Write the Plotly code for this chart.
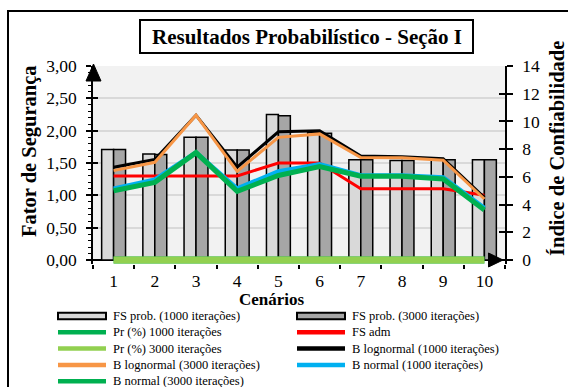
import plotly.graph_objects as go

# ---- data ----
cenarios = ["1", "2", "3", "4", "5", "6", "7", "8", "9", "10"]
fs_prob_1000 = [1.71, 1.64, 1.90, 1.70, 2.25, 1.97, 1.55, 1.54, 1.55, 1.55]
fs_prob_3000 = [1.71, 1.63, 1.90, 1.70, 2.23, 1.96, 1.55, 1.54, 1.55, 1.55]
fs_adm = [1.30, 1.30, 1.30, 1.30, 1.50, 1.50, 1.10, 1.10, 1.10, 1.00]
pr_1000 = [0, 0, 0, 0, 0, 0, 0, 0, 0, 0]
pr_3000 = [0, 0, 0, 0, 0, 0, 0, 0, 0, 0]
b_lognormal_1000 = [6.70, 7.25, 10.45, 6.70, 9.25, 9.32, 7.50, 7.45, 7.30, 4.50]
b_lognormal_3000 = [6.45, 7.05, 10.45, 6.40, 8.85, 9.10, 7.40, 7.38, 7.20, 4.40]
b_normal_1000 = [5.15, 5.80, 7.75, 5.15, 6.40, 6.90, 6.10, 6.10, 5.95, 3.75]
b_normal_3000 = [5.00, 5.60, 7.75, 4.95, 6.10, 6.75, 6.05, 6.05, 5.85, 3.60]

titulo = "Resultados Probabilístico - Seção I"
titulo_y1 = "Fator de Segurança"
titulo_y2 = "Índice de Confiabilidade"
titulo_x = "Cenários"

# ---- page geometry (pixels) ----
W, H = 568, 387
ML, MR, MT, MB = 93, 63, 66, 123
PW = W - ML - MR
PH = H - MT - MB
Y_ZERO_PX = 260            # pixel row of value 0 on both value axes
Y_TOP_PX = MT              # pixel row of the top of both value axes

def px_x(px):
    return (px - ML) / PW

def px_y(py):
    return (H - MB - py) / PH

# both value axes start slightly below zero so the thick zero lines are not clipped
span_px = Y_ZERO_PX - Y_TOP_PX
pad_px = (H - MB) - Y_ZERO_PX
y1_max, y2_max = 3.0, 14.0
y1_range = [-pad_px / span_px * y1_max, y1_max]
y2_range = [-pad_px / span_px * y2_max, y2_max]

FONT = "Liberation Serif"
C_LIGHT = "#D9D9D9"
C_DARK = "#A6A6A6"
C_GREEN = "#00B050"
C_LGREEN = "#92D050"
C_RED = "#FF0000"
C_BLACK = "#000000"
C_ORANGE = "#F79646"
C_BLUE = "#00B0F0"

fig = go.Figure()

# bars (left axis)
fig.add_trace(go.Bar(x=cenarios, y=fs_prob_1000, name="FS prob. (1000 iterações)",
                     marker=dict(color=C_LIGHT, line=dict(color="black", width=1.5)),
                     yaxis="y"))
fig.add_trace(go.Bar(x=cenarios, y=fs_prob_3000, name="FS prob. (3000 iterações)",
                     marker=dict(color=C_DARK, line=dict(color="black", width=1.5)),
                     yaxis="y"))
# allowable safety factor (left axis)
fig.add_trace(go.Scatter(x=cenarios, y=fs_adm, name="FS adm", mode="lines",
                         line=dict(color=C_RED, width=3), yaxis="y"))
# reliability indices (right axis)
fig.add_trace(go.Scatter(x=cenarios, y=b_lognormal_1000, name="B lognormal (1000 iterações)",
                         mode="lines", line=dict(color=C_BLACK, width=3), yaxis="y2"))
fig.add_trace(go.Scatter(x=cenarios, y=b_lognormal_3000, name="B lognormal (3000 iterações)",
                         mode="lines", line=dict(color=C_ORANGE, width=3), yaxis="y2"))
fig.add_trace(go.Scatter(x=cenarios, y=b_normal_1000, name="B normal (1000 iterações)",
                         mode="lines", line=dict(color=C_BLUE, width=4.5), yaxis="y2"))
fig.add_trace(go.Scatter(x=cenarios, y=b_normal_3000, name="B normal (3000 iterações)",
                         mode="lines", line=dict(color=C_GREEN, width=5), yaxis="y2"))
# failure probabilities
fig.add_trace(go.Scatter(x=cenarios, y=pr_1000, name="Pr (%) 1000 iterações",
                         mode="lines", line=dict(color=C_GREEN, width=7), yaxis="y3"))
fig.add_trace(go.Scatter(x=cenarios, y=pr_3000, name="Pr (%) 3000 iterações",
                         mode="lines", line=dict(color=C_LGREEN, width=7), yaxis="y4"))

tickfont = dict(family=FONT, size=17.5, color="black")

fig.update_layout(
    width=W, height=H,
    margin=dict(l=ML, r=MR, t=MT, b=MB, pad=0),
    paper_bgcolor="white", plot_bgcolor="white",
    separators=",.",
    showlegend=False,
    barmode="group", bargap=0.42, bargroupgap=0,
    font=dict(family=FONT, color="black"),
    xaxis=dict(type="category", tickson="boundaries", ticks="outside", ticklen=4,
               tickwidth=1.5, tickcolor="black", showline=False, showgrid=False,
               zeroline=False, tickfont=tickfont, ticklabelstandoff=4),
    yaxis=dict(range=y1_range, tick0=0, dtick=0.5, tickformat=".2f",
               showline=True, linecolor="black", linewidth=1.5,
               ticks="outside", ticklen=5, tickwidth=1.5, tickcolor="black",
               minor=dict(ticks="outside", ticklen=3.5, tickwidth=1.2,
                          tickcolor="black", dtick=0.1, tick0=0, showgrid=False),
               showgrid=True, gridcolor="#D9D9D9", gridwidth=2,
               zeroline=True, zerolinecolor="black", zerolinewidth=1.5,
               tickfont=tickfont, ticklabelstandoff=6),
    yaxis2=dict(range=y2_range, tick0=0, dtick=2, overlaying="y", side="right",
                showline=True, linecolor="black", linewidth=1.5,
                ticks="outside", ticklen=6, tickwidth=1.5, tickcolor="black",
                showgrid=False, zeroline=False, tickfont=tickfont,
                ticklabelstandoff=6),
    yaxis3=dict(range=y1_range, tick0=0, dtick=0.5, overlaying="y", side="left",
                ticks="inside", ticklen=5, tickwidth=1.5, tickcolor="black",
                showticklabels=False, showline=False, showgrid=False, zeroline=False),
    yaxis4=dict(range=y2_range, tick0=0, dtick=2, overlaying="y", side="right",
                ticks="inside", ticklen=6, tickwidth=1.5, tickcolor="black",
                showticklabels=False, showline=False, showgrid=False, zeroline=False),
)

shapes = []
# plot-area fill, from zero to the top of the value axes
shapes.append(dict(type="rect", xref="paper", yref="y", x0=0, x1=1, y0=0, y1=y1_max,
                   fillcolor="#F2F2F2", line=dict(width=0), layer="below"))
# outer chart frame
shapes.append(dict(type="rect", xref="paper", yref="paper",
                   x0=px_x(8), x1=px_x(W + 10), y0=px_y(H + 10), y1=px_y(11),
                   line=dict(color="black", width=2), fillcolor="rgba(0,0,0,0)"))
# title box
shapes.append(dict(type="rect", xref="paper", yref="paper",
                   x0=px_x(140), x1=px_x(473), y0=px_y(53), y1=px_y(20),
                   line=dict(color="black", width=2), fillcolor="white"))
# arrow heads on the left value axis and on the category axis
def tri(points):
    d = "M " + " L ".join(f"{px_x(a):.5f},{px_y(b):.5f}" for a, b in points) + " Z"
    return dict(type="path", xref="paper", yref="paper", path=d,
                fillcolor="black", line=dict(color="black", width=1))
shapes.append(tri([(93.5, 64), (86, 81), (101, 81)]))
shapes.append(tri([(503, Y_ZERO_PX), (488.5, 253), (488.5, 267)]))

annotations = []
annotations.append(dict(text=f"<b>{titulo}</b>", xref="paper", yref="paper",
                        x=px_x(306.5), y=px_y(36.5), xanchor="center", yanchor="middle",
                        showarrow=False, font=dict(family=FONT, size=21, color="black")))
annotations.append(dict(text=f"<b>{titulo_y1}</b>", xref="paper", yref="paper",
                        x=px_x(29), y=px_y(151), xanchor="center", yanchor="middle",
                        textangle=-90, showarrow=False,
                        font=dict(family=FONT, size=20.5, color="black")))
annotations.append(dict(text=f"<b>{titulo_y2}</b>", xref="paper", yref="paper",
                        x=px_x(557), y=px_y(149), xanchor="center", yanchor="middle",
                        textangle=-90, showarrow=False,
                        font=dict(family=FONT, size=20.5, color="black")))
annotations.append(dict(text=f"<b>{titulo_x}</b>", xref="paper", yref="paper",
                        x=px_x(272), y=px_y(299.5), xanchor="center", yanchor="middle",
                        showarrow=False, font=dict(family=FONT, size=17, color="black")))

# legend: two columns, drawn from the trace styles
legend_items = [
    ("FS prob. (1000 iterações)", "bar", C_LIGHT),
    ("FS prob. (3000 iterações)", "bar", C_DARK),
    ("Pr (%) 1000 iterações", "line", C_GREEN),
    ("FS adm", "line", C_RED),
    ("Pr (%) 3000 iterações", "line", C_LGREEN),
    ("B lognormal (1000 iterações)", "line", C_BLACK),
    ("B lognormal (3000 iterações)", "line", C_ORANGE),
    ("B normal (1000 iterações)", "line", C_BLUE),
    ("B normal (3000 iterações)", "line", C_GREEN),
]
col_x = [58, 297]
row_y0, row_dy = 316, 16.3
sample_w = 48
for i, (label, kind, color) in enumerate(legend_items):
    cx = col_x[i % 2]
    cy = row_y0 + (i // 2) * row_dy
    if kind == "bar":
        shapes.append(dict(type="rect", xref="paper", yref="paper",
                           x0=px_x(cx), x1=px_x(cx + sample_w),
                           y0=px_y(cy + 3.3), y1=px_y(cy - 3.3),
                           fillcolor=color, line=dict(color="black", width=2)))
    else:
        shapes.append(dict(type="line", xref="paper", yref="paper",
                           x0=px_x(cx), x1=px_x(cx + sample_w),
                           y0=px_y(cy), y1=px_y(cy),
                           line=dict(color=color, width=4.5)))
    annotations.append(dict(text=label, xref="paper", yref="paper",
                            x=px_x(cx + sample_w + 5), y=px_y(cy),
                            xanchor="left", yanchor="middle", showarrow=False,
                            font=dict(family=FONT, size=12.5, color="black")))

fig.update_layout(shapes=shapes, annotations=annotations)

fig.write_html("out.html")
